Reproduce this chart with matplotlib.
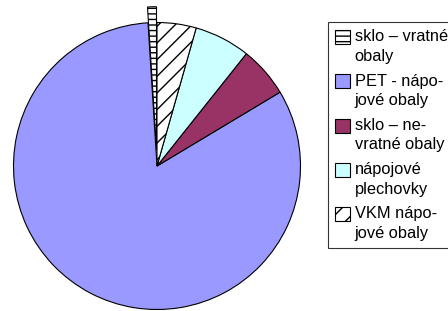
import matplotlib.pyplot as plt
from matplotlib.legend_handler import HandlerPatch
from matplotlib.patches import Rectangle

plt.rcParams['font.family'] = ['Liberation Sans', 'DejaVu Sans']

labels = ['sklo – vratné\nobaly', 'PET - nápo-\njové obaly', 'sklo – ne-\nvratné obaly',
          'nápojové\nplechovky', 'VKM nápo-\njové obaly']
shares = [1.0, 82.6, 5.7, 6.3, 4.4]
colors = ['white', '#9999ff', '#993366', '#ccffff', 'white']
hatches = ['---', None, None, None, '//']
explode = [0.11, 0, 0, 0, 0]

fig = plt.figure(figsize=(4.48, 3.11), dpi=100)
ax = fig.add_axes([0, 0, 1, 1])

wedges, _ = ax.pie(shares, colors=colors, explode=explode, startangle=90,
                   counterclock=True, radius=1.0,
                   wedgeprops=dict(edgecolor='black', linewidth=0.8))
for w, h in zip(wedges, hatches):
    if h:
        w.set_hatch(h)

# pie centre at (157, 166) px from top-left, radius 143.5 px
r = 143.5
ax.set_aspect('auto')
ax.set_xlim(-157 / r, (448 - 157) / r)
ax.set_ylim(-(311 - 166) / r, 166 / r)
ax.axis('off')


def top_square(legend, orig_handle, xdescent, ydescent, width, height, fontsize):
    # square next to the first line of the label
    return Rectangle((-xdescent, -ydescent + 0.6 * fontsize), width, height)


leg = fig.legend(wedges, labels, loc='upper left', bbox_to_anchor=(328 / 448, 1 - 22 / 311),
                 fontsize=11.8, frameon=True, fancybox=False, edgecolor='black',
                 handlelength=0.92, handleheight=0.92, handletextpad=0.25,
                 labelspacing=0.6, borderpad=0.45, borderaxespad=0,
                 handler_map={w: HandlerPatch(patch_func=top_square) for w in wedges})
leg.get_frame().set_linewidth(0.8)
for t in leg.get_texts():
    t.set_linespacing(1.37)

fig.savefig('out.png', dpi=100)
